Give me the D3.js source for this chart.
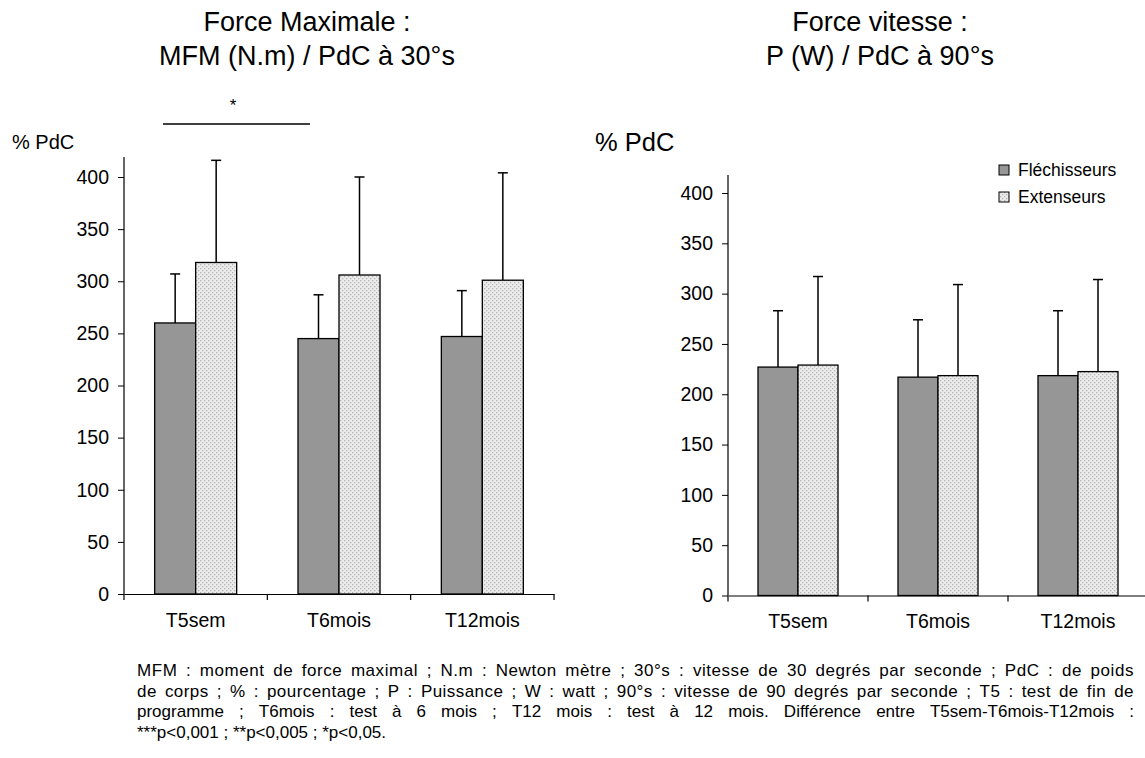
<!DOCTYPE html>
<html><head><meta charset="utf-8">
<script src="https://cdn.jsdelivr.net/npm/d3@7"></script>
<style>body{margin:0;background:#fff}svg{display:block;font-family:"Liberation Sans",Arial,sans-serif}</style>
</head><body><svg id="c" width="1145" height="758"></svg>
<script>
const categories = ["T5sem", "T6mois", "T12mois"];
const seriesNames = ["Fléchisseurs", "Extenseurs"];
// Left chart: Force maximale (MFM / PdC at 30°/s)
const leftFlex = [260, 245, 247];
const leftFlexErr = [307, 287, 291];
const leftExt = [318, 306, 301];
const leftExtErr = [416, 400, 404];
// Right chart: Force vitesse (P / PdC at 90°/s)
const rightFlex = [227, 217, 218.5];
const rightFlexErr = [283, 274, 283];
const rightExt = [229, 218.5, 222.5];
const rightExtErr = [317, 309, 314];
const yTicks = [0, 50, 100, 150, 200, 250, 300, 350, 400];
const footLines = [
 "MFM : moment de force maximal ; N.m : Newton mètre ; 30°s : vitesse de 30 degrés par seconde ; PdC : de  poids",
 "de corps ; % : pourcentage ; P : Puissance ; W : watt ; 90°s : vitesse de 90 degrés par seconde ; T5 :  test de fin de",
 "programme  ;  T6mois  :  test  à  6  mois  ;  T12  mois  :  test  à  12  mois.  Différence  entre  T5sem-T6mois-T12mois  :",
 "***p<0,001 ; **p<0,005 ; *p<0,05."
];
const footLetterSpacing = [0.55, 0.45, 0, 0];

const svg = d3.select("#c");
const defs = svg.append("defs");
const pat = defs.append("pattern").attr("id","dots").attr("patternUnits","userSpaceOnUse")
  .attr("width",4).attr("height",4);
pat.append("rect").attr("width",4).attr("height",4).attr("fill","#ececec");
pat.append("rect").attr("x",0).attr("y",0).attr("width",1.3).attr("height",1.3).attr("fill","#b4b4b4");
pat.append("rect").attr("x",2).attr("y",2).attr("width",1.3).attr("height",1.3).attr("fill","#b4b4b4");

function drawChart(cfg){
  const x = d3.scaleBand().domain(categories).range([cfg.x0, cfg.x1]);
  const y = d3.scaleLinear().domain([0,400]).range([cfg.y0, cfg.y400]);
  const g = svg.append("g");
  const ya = g.append("g").attr("transform",`translate(${cfg.x0},0)`)
    .call(d3.axisLeft(y).tickValues(yTicks).tickSize(6).tickSizeOuter(0).tickPadding(9));
  ya.select(".domain").remove();
  ya.append("line").attr("x1",0).attr("x2",0).attr("y1",cfg.y0).attr("y2",cfg.yTop).attr("stroke","#000").attr("stroke-width",1.2);
  ya.selectAll("text").attr("font-size",19.5).attr("fill","#000").attr("font-family","Liberation Sans, Arial");
  ya.selectAll(".tick line").attr("stroke","#000");
  const xa = g.append("g").attr("transform",`translate(0,${cfg.y0})`)
    .call(d3.axisBottom(x).tickSize(0).tickPadding(19));
  xa.select(".domain").attr("stroke","#000").attr("stroke-width",1.2);
  xa.selectAll("text").attr("font-size",19.5).attr("fill","#000").attr("font-family","Liberation Sans, Arial");
  const bounds = categories.map(c => x(c)).concat([cfg.x1]);
  g.selectAll(".sep").data(bounds).join("line").attr("x1",d=>d).attr("x2",d=>d)
    .attr("y1",cfg.y0).attr("y2",cfg.y0+6).attr("stroke","#000").attr("stroke-width",1.2);
  const sub = d3.scaleBand().domain([0,1]).range([0, cfg.groupW]);
  const vals = [cfg.flex, cfg.ext], errs = [cfg.flexErr, cfg.extErr];
  [0,1].forEach(s=>{
    categories.forEach((c,i)=>{
      const bx = x(c) + x.bandwidth()/2 - cfg.groupW/2 + sub(s);
      const cx = bx + sub.bandwidth()/2;
      g.append("line").attr("x1",cx).attr("x2",cx).attr("y1",y(vals[s][i])).attr("y2",y(errs[s][i]))
        .attr("stroke","#000").attr("stroke-width",1.5);
      g.append("line").attr("x1",cx-5).attr("x2",cx+5).attr("y1",y(errs[s][i])).attr("y2",y(errs[s][i]))
        .attr("stroke","#000").attr("stroke-width",1.5);
      g.append("rect").attr("x",bx).attr("y",y(vals[s][i])).attr("width",sub.bandwidth())
        .attr("height",y(0)-y(vals[s][i])).attr("fill", s===0 ? "#969696" : "url(#dots)")
        .attr("stroke","#000").attr("stroke-width",1.3);
    });
  });
  const t = g.append("text").attr("text-anchor","middle").attr("font-size",27).attr("fill","#000");
  t.append("tspan").attr("x",cfg.titleX).attr("y",31).text(cfg.title1);
  t.append("tspan").attr("x",cfg.titleX).attr("y",65).text(cfg.title2);
  g.append("text").attr("x",cfg.unitX).attr("y",cfg.unitY).attr("font-size",cfg.unitSize).attr("fill","#000").text("% PdC");
}

drawChart({x0:124, x1:554, y0:594, y400:177, yTop:157, groupW:82,
  flex:leftFlex, flexErr:leftFlexErr, ext:leftExt, extErr:leftExtErr,
  titleX:307, title1:"Force Maximale :", title2:"MFM (N.m) / PdC à 30°s",
  unitX:12, unitY:149, unitSize:20});
drawChart({x0:728, x1:1148, y0:595.5, y400:193, yTop:175, groupW:80,
  flex:rightFlex, flexErr:rightFlexErr, ext:rightExt, extErr:rightExtErr,
  titleX:880, title1:"Force vitesse :", title2:"P (W) / PdC à 90°s",
  unitX:595, unitY:151, unitSize:25.5});

svg.append("line").attr("x1",163).attr("x2",310).attr("y1",124).attr("y2",124).attr("stroke","#000").attr("stroke-width",1.5);
svg.append("text").attr("x",233).attr("y",111).attr("text-anchor","middle").attr("font-size",17).text("*");

const lg = svg.append("g");
seriesNames.forEach((n,i)=>{
  const yy = 170 + i*27;
  lg.append("rect").attr("x",999).attr("y",yy-5).attr("width",10).attr("height",10)
    .attr("fill", i===0 ? "#969696" : "url(#dots)").attr("stroke","#000").attr("stroke-width",1);
  lg.append("text").attr("x",1018).attr("y",yy+6).attr("font-size",17.5).attr("fill","#000").text(n);
});

const fw = [137, 1134];
footLines.forEach((line,i)=>{
  const yy = 676 + i*20.5;
  const words = line.split(/\s+/).filter(w=>w.length);
  const g = svg.append("g");
  const texts = words.map(w => g.append("text").attr("y",yy).attr("font-size",17)
    .attr("letter-spacing",footLetterSpacing[i]).attr("fill","#000").text(w));
  const widths = texts.map(t => t.node().getComputedTextLength());
  const total = d3.sum(widths);
  const justify = i < footLines.length-1;
  const gap = justify ? (fw[1]-fw[0]-total)/(words.length-1) : 4.7;
  let cx = fw[0];
  texts.forEach((t,k)=>{ t.attr("x",cx); cx += widths[k] + gap; });
});
</script></body></html>
